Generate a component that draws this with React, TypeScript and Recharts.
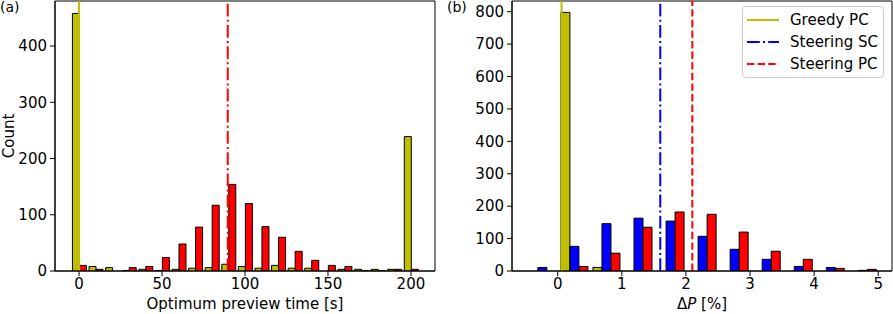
import { ComposedChart, Bar, XAxis, YAxis, ReferenceLine, ReferenceArea, Legend, Label } from 'recharts'

const FONT = '"DejaVu Sans", sans-serif'
const YELLOW = '#bfbf00'
const RED = '#ff0000'
const BLUE = '#0000ff'

// (a) optimum preview time histogram, bins of 10 s
const timeBins = [0, 10, 20, 30, 40, 50, 60, 70, 80, 90, 100, 110, 120, 130, 140, 150, 160, 170, 180, 190, 200]
const greedyTimeCounts = [458, 8, 6, 1, 3, 1, 3, 5, 6, 12, 8, 5, 10, 5, 5, 0, 3, 3, 3, 3, 239]
const steeringTimeCounts = [10, 3, 0, 6, 8, 24, 48, 78, 117, 154, 120, 79, 60, 35, 19, 10, 8, 1, 1, 3, 3]
const timeTicks = [0, 50, 100, 150, 200]
const countTicksA = [0, 100, 200, 300, 400]
const timeDomain = [-14.5, 214.5]
const countDomainA = [0, 480]
const greedyTimeMean = 0
const steeringTimeMean = 89.6

// (b) delta P histogram, bins of 0.5 %
const dpBins = [-0.25, 0.25, 0.75, 1.25, 1.75, 2.25, 2.75, 3.25, 3.75, 4.25, 4.75]
const greedyDpCounts = [0, 798, 11, 0, 0, 0, 0, 0, 0, 0, 0]
const steeringScDpCounts = [11, 76, 146, 163, 154, 107, 67, 36, 14, 11, 2]
const steeringPcDpCounts = [0, 14, 55, 135, 182, 175, 120, 61, 36, 8, 5]
const dpTicks = [0, 1, 2, 3, 4, 5]
const countTicksB = [0, 100, 200, 300, 400, 500, 600, 700, 800]
const dpDomain = [-0.713, 5.215]
const countDomainB = [0, 833]
const greedyDpMean = 0.06
const steeringScDpMean = 1.6
const steeringPcDpMean = 2.1

const legendNames = ['Greedy PC', 'Steering SC', 'Steering PC']
const legendColors = [YELLOW, BLUE, RED]
const legendDashes = [undefined, '12.8 3.2 2 3.2', '7.4 3.2']

const timeData = timeBins.map((bin, i) => ({
  bin,
  greedy: greedyTimeCounts[i],
  steering: steeringTimeCounts[i],
}))

const dpData = dpBins.map((bin, i) => ({
  bin,
  greedy: greedyDpCounts[i],
  sc: steeringScDpCounts[i],
  pc: steeringPcDpCounts[i],
}))

const tickStyle = { fill: '#000', fontSize: 15, fontFamily: FONT }

function CountLabel(props: any) {
  const { viewBox } = props
  const x = viewBox.x + 14
  const y = viewBox.y + viewBox.height / 2
  return (
    <text x={x} y={y} transform={`rotate(-90, ${x}, ${y})`} textAnchor="middle" fontSize={15} fontFamily={FONT} fill="#000">
      Count
    </text>
  )
}

function TimeLabel(props: any) {
  const { viewBox } = props
  return (
    <text x={viewBox.x + viewBox.width / 2} y={viewBox.y + viewBox.height - 5} textAnchor="middle" fontSize={15} fontFamily={FONT} fill="#000">
      Optimum preview time [s]
    </text>
  )
}

function DpLabel(props: any) {
  const { viewBox } = props
  return (
    <text x={viewBox.x + viewBox.width / 2} y={viewBox.y + viewBox.height - 5} textAnchor="middle" fontSize={15} fontFamily={FONT} fill="#000">
      <tspan>Δ</tspan>
      <tspan fontStyle="italic">P</tspan>
      <tspan> [%]</tspan>
    </text>
  )
}

function LegendBox() {
  return (
    <div style={{ border: '1px solid #cccccc', borderRadius: 4, background: '#fff', padding: '2px 0 2px 4px', fontFamily: FONT, fontSize: 15, lineHeight: '22px', color: '#000' }}>
      {legendNames.map((name, i) => (
        <div key={name} style={{ display: 'flex', alignItems: 'center', height: 22 }}>
          <svg width={32} height={4}>
            <line x1={0} x2={32} y1={2} y2={2} stroke={legendColors[i]} strokeWidth={2} strokeDasharray={legendDashes[i]} />
          </svg>
          <span style={{ marginLeft: 11 }}>{name}</span>
        </div>
      ))}
    </div>
  )
}

const panelLabel = { position: 'absolute' as const, top: 0, fontFamily: FONT, fontSize: 14, lineHeight: '14px', color: '#000' }

export default function App() {
  return (
    <div style={{ position: 'absolute', left: 0, top: 0, width: 893, height: 314, background: '#fff' }}>
      <div style={{ position: 'absolute', left: 0, top: 0 }}>
        <ComposedChart width={440} height={314} data={timeData} margin={{ top: 1, right: 5, bottom: 0, left: 0 }} barCategoryGap="10%" barGap={0}>
          <XAxis dataKey="bin" type="number" domain={timeDomain} ticks={timeTicks} interval={0} allowDataOverflow height={43} tickSize={5} tickMargin={2} stroke="#000" tick={tickStyle}>
            <Label content={TimeLabel} />
          </XAxis>
          <YAxis type="number" domain={countDomainA} ticks={countTicksA} interval={0} allowDataOverflow width={55} tickSize={5} tickMargin={3} stroke="#000" tick={tickStyle}>
            <Label content={CountLabel} />
          </YAxis>
          <ReferenceArea x1={timeDomain[0]} x2={timeDomain[1]} y1={countDomainA[0]} y2={countDomainA[1]} fill="none" fillOpacity={0} stroke="#000" strokeWidth={1} strokeOpacity={1} />
          <Bar dataKey="greedy" fill={YELLOW} stroke="#000" strokeWidth={1} isAnimationActive={false} />
          <Bar dataKey="steering" fill={RED} stroke="#000" strokeWidth={1} isAnimationActive={false} />
          <ReferenceLine x={greedyTimeMean} stroke={YELLOW} strokeWidth={2} />
          <ReferenceLine x={steeringTimeMean} stroke={RED} strokeWidth={2} strokeDasharray="12.8 3.2 2 3.2" />
        </ComposedChart>
      </div>
      <div style={{ position: 'absolute', left: 440, top: 0 }}>
        <ComposedChart width={453} height={314} data={dpData} margin={{ top: 1, right: 1, bottom: 0, left: 0 }} barCategoryGap="10%" barGap={0}>
          <XAxis dataKey="bin" type="number" domain={dpDomain} ticks={dpTicks} interval={0} allowDataOverflow height={43} tickSize={5} tickMargin={2} stroke="#000" tick={tickStyle}>
            <Label content={DpLabel} />
          </XAxis>
          <YAxis type="number" domain={countDomainB} ticks={countTicksB} interval={0} allowDataOverflow width={72} tickSize={5} tickMargin={3} stroke="#000" tick={tickStyle} />
          <ReferenceArea x1={dpDomain[0]} x2={dpDomain[1]} y1={countDomainB[0]} y2={countDomainB[1]} fill="none" fillOpacity={0} stroke="#000" strokeWidth={1} strokeOpacity={1} />
          <Bar dataKey="greedy" fill={YELLOW} stroke="#000" strokeWidth={1} isAnimationActive={false} />
          <Bar dataKey="sc" fill={BLUE} stroke="#000" strokeWidth={1} isAnimationActive={false} />
          <Bar dataKey="pc" fill={RED} stroke="#000" strokeWidth={1} isAnimationActive={false} />
          <ReferenceLine x={greedyDpMean} stroke={YELLOW} strokeWidth={2} />
          <ReferenceLine x={steeringScDpMean} stroke={BLUE} strokeWidth={2} strokeDasharray="12.8 3.2 2 3.2" />
          <ReferenceLine x={steeringPcDpMean} stroke={RED} strokeWidth={2} strokeDasharray="7.4 3.2" />
          <Legend layout="vertical" align="center" verticalAlign="middle" wrapperStyle={{ left: 302, top: 6, width: 142 }} content={LegendBox} />
        </ComposedChart>
      </div>
      <div style={{ ...panelLabel, left: 0 }}>(a)</div>
      <div style={{ ...panelLabel, left: 447 }}>(b)</div>
    </div>
  )
}
